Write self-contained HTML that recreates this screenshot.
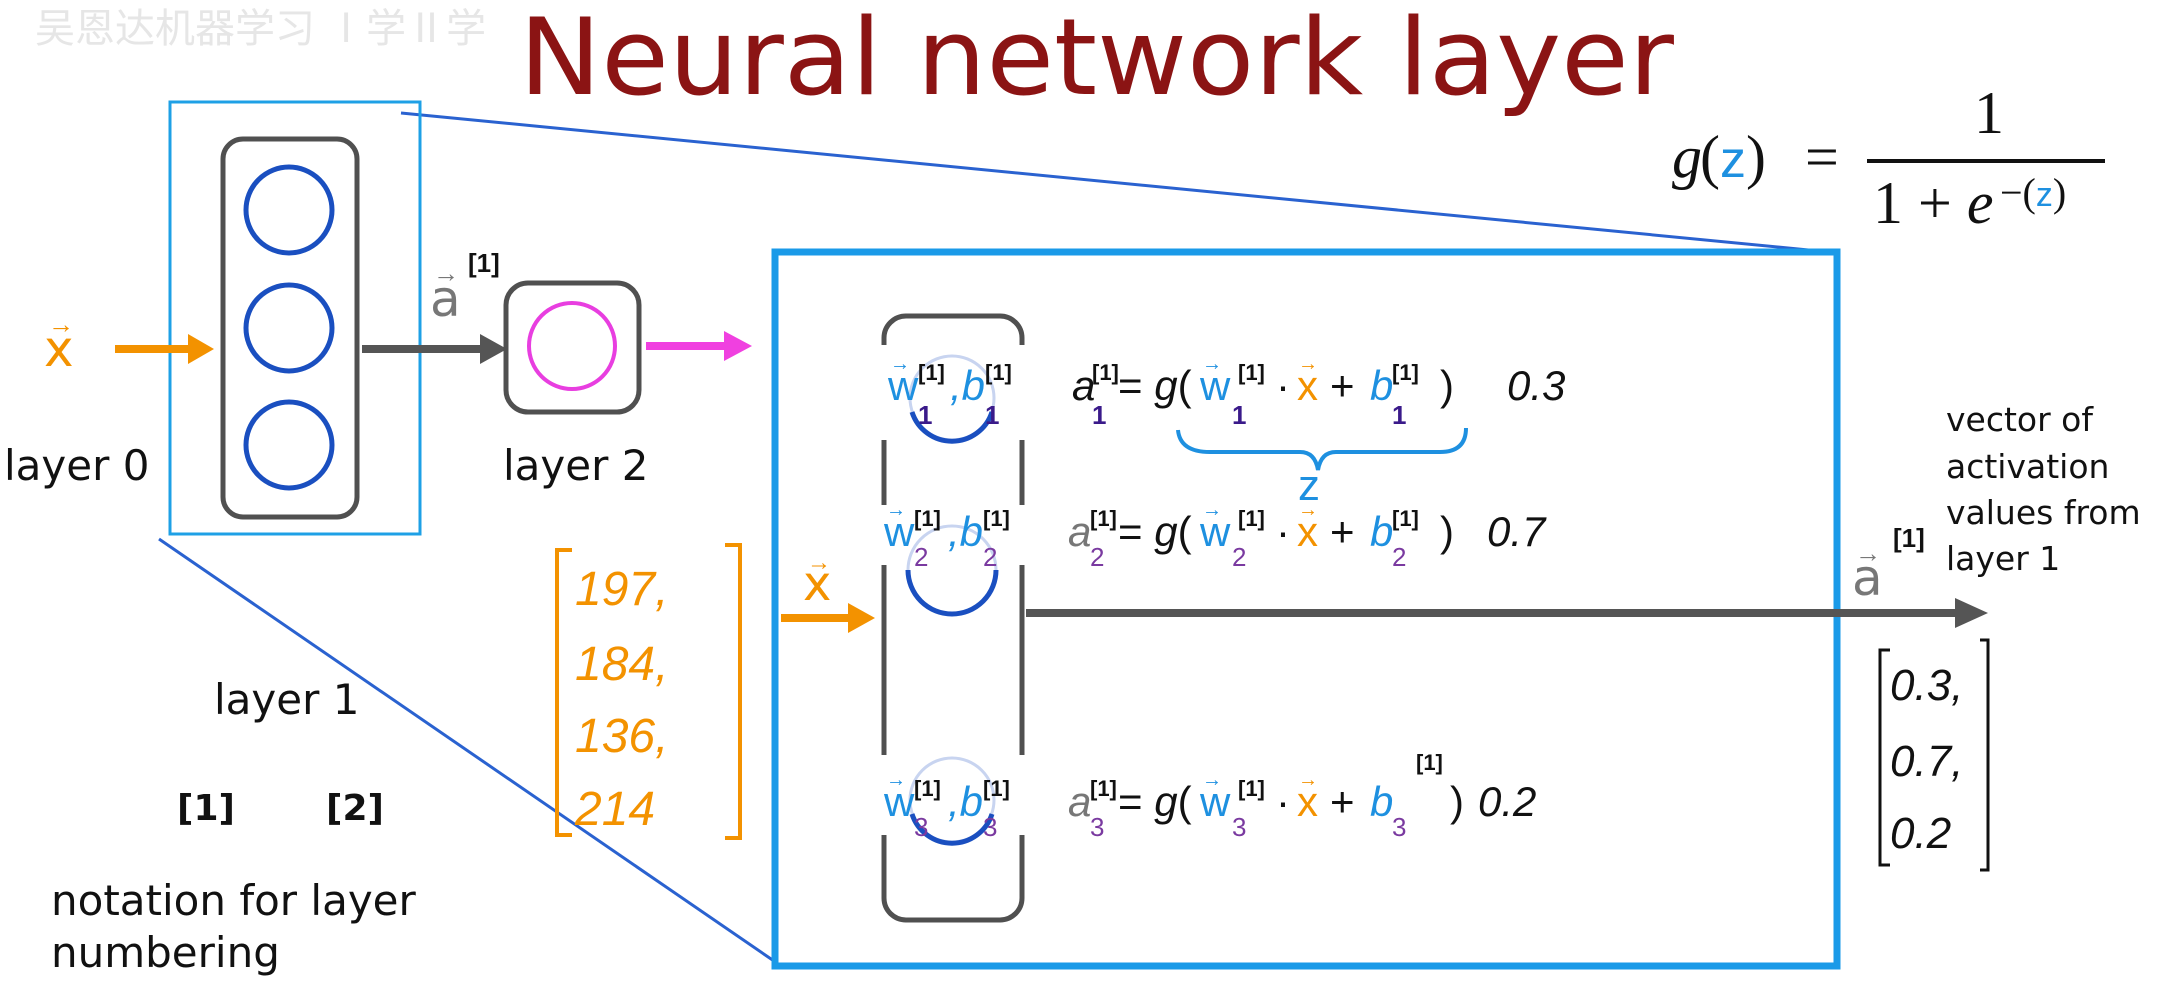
<!DOCTYPE html>
<html><head><meta charset="utf-8"><style>
html,body{margin:0;padding:0;background:#fff;}
svg{display:block;}
</style></head><body>
<svg width="2169" height="991" viewBox="0 0 2169 991" xmlns="http://www.w3.org/2000/svg" font-family="Liberation Sans, sans-serif">
<rect width="2169" height="991" fill="#fff"/>
<text x="35" y="42" font-size="40" fill="#e6e6e6" font-family="Liberation Sans, Noto Sans CJK SC, sans-serif">吴恩达机器学习 Ⅰ学Ⅱ学</text>
<text x="519" y="94" font-size="106" fill="#8b1414" font-family="DejaVu Sans, sans-serif" textLength="1155" lengthAdjust="spacingAndGlyphs">Neural network layer</text>

<g font-family="Liberation Serif, serif" font-size="60" fill="#111">
<text x="1672" y="177" font-style="italic">g</text>
<text x="1700" y="177">(<tspan fill="#1e90e0" font-family="Liberation Sans, sans-serif" font-size="52">z</tspan>)</text>
<text x="1805" y="177">=</text>
<text x="1974" y="133">1</text>
<line x1="1867" y1="161" x2="2105" y2="161" stroke="#111" stroke-width="4"/>
<text x="1873" y="223">1 + <tspan font-style="italic">e</tspan></text>
<text x="2000" y="206" font-size="40">−(<tspan fill="#1e90e0" font-family="Liberation Sans, sans-serif" font-size="34">z</tspan>)</text>
</g>

<line x1="401" y1="113" x2="1839" y2="253" stroke="#2a62d0" stroke-width="3"/>
<line x1="159" y1="539" x2="774" y2="961" stroke="#2a62d0" stroke-width="3"/>

<rect x="170" y="102" width="250" height="432" fill="none" stroke="#1ea0e6" stroke-width="3"/>
<rect x="223" y="139" width="134" height="378" rx="20" fill="none" stroke="#505050" stroke-width="5"/>
<circle cx="289" cy="210" r="43" fill="none" stroke="#1a4fc0" stroke-width="5"/>
<circle cx="289" cy="328" r="43" fill="none" stroke="#1a4fc0" stroke-width="5"/>
<circle cx="289" cy="445" r="43" fill="none" stroke="#1a4fc0" stroke-width="5"/>
<text x="44" y="366" font-size="50" fill="#f39200" font-family="DejaVu Sans, sans-serif">x</text>
<text x="48" y="333" font-size="26" fill="#f39200">→</text>
<line x1="115" y1="349" x2="192" y2="349" stroke="#f39200" stroke-width="8"/>
<path d="M188,334 L214,349 L188,364 z" fill="#f39200"/>
<line x1="362" y1="349" x2="485" y2="349" stroke="#555" stroke-width="8"/>
<path d="M480,334 L507,349 L480,364 z" fill="#555"/>
<text x="430" y="316" font-size="50" fill="#777" font-family="DejaVu Sans, sans-serif">a</text>
<text x="433" y="282" font-size="26" fill="#777">→</text>
<text x="468" y="272" font-size="26" fill="#111" font-weight="bold">[1]</text>
<rect x="506" y="283" width="133" height="129" rx="22" fill="none" stroke="#505050" stroke-width="5"/>
<circle cx="572" cy="346" r="43" fill="none" stroke="#e83ee0" stroke-width="4"/>
<line x1="646" y1="346" x2="728" y2="346" stroke="#f040e0" stroke-width="8"/>
<path d="M724,331 L752,346 L724,361 z" fill="#f040e0"/>

<g font-size="42" fill="#111" font-family="DejaVu Sans, sans-serif">
<text x="4" y="480">layer 0</text>
<text x="503" y="480">layer 2</text>
<text x="214" y="714">layer 1</text>
<text x="177" y="820" font-size="36" font-weight="bold">[1]</text>
<text x="326" y="820" font-size="36" font-weight="bold">[2]</text>
<text x="51" y="915">notation for layer</text>
<text x="51" y="967">numbering</text>
</g>

<rect x="775" y="252" width="1062" height="714" fill="none" stroke="#1a9ae8" stroke-width="7"/>

<rect x="884" y="316" width="138" height="604" rx="22" fill="none" stroke="#505050" stroke-width="5"/>
<rect x="876" y="345" width="155" height="95" fill="#fff"/>
<rect x="876" y="505" width="155" height="60" fill="#fff"/>
<rect x="876" y="755" width="155" height="80" fill="#fff"/>
<circle cx="952" cy="398" r="42" fill="none" stroke="#c8d4f0" stroke-width="3"/>
<path d="M912,412 A42,42 0 0 0 992,412" fill="none" stroke="#1a4fc0" stroke-width="5"/>
<circle cx="952" cy="570" r="44" fill="none" stroke="#c8d4f0" stroke-width="3"/>
<path d="M908,570 A44,44 0 0 0 996,570" fill="none" stroke="#1a4fc0" stroke-width="5"/>
<circle cx="952" cy="800" r="42" fill="none" stroke="#c8d4f0" stroke-width="3"/>
<path d="M912,814 A42,42 0 0 0 992,814" fill="none" stroke="#1a4fc0" stroke-width="5"/>

<text x="803" y="600" font-size="48" fill="#f39200" font-family="DejaVu Sans, sans-serif">x</text>
<text x="807" y="570" font-size="24" fill="#f39200">→</text>
<line x1="781" y1="618" x2="852" y2="618" stroke="#f39200" stroke-width="8"/>
<path d="M848,603 L875,618 L848,633 z" fill="#f39200"/>

<line x1="1026" y1="613" x2="1960" y2="613" stroke="#555" stroke-width="8"/>
<path d="M1955,598 L1988,613 L1955,628 z" fill="#555"/>
<text x="1852" y="595" font-size="50" fill="#777" font-family="DejaVu Sans, sans-serif">a</text>
<text x="1855" y="562" font-size="26" fill="#777">→</text>
<text x="1893" y="547" font-size="26" fill="#111" font-weight="bold">[1]</text>

<g font-size="33" fill="#111" font-family="DejaVu Sans, sans-serif">
<text x="1946" y="431">vector of</text>
<text x="1946" y="478">activation</text>
<text x="1946" y="524">values from</text>
<text x="1946" y="570">layer 1</text>
</g>

<path d="M1890,650 L1880,650 L1880,865 L1890,865" fill="none" stroke="#111" stroke-width="3"/>
<path d="M1980,640 L1988,640 L1988,870 L1980,870" fill="none" stroke="#111" stroke-width="3"/>
<g font-size="44" fill="#111" font-style="italic">
<text x="1890" y="700">0.3,</text>
<text x="1890" y="776">0.7,</text>
<text x="1890" y="848">0.2</text>
</g>

<path d="M572,550 L557,550 L557,835 L572,835" fill="none" stroke="#f39200" stroke-width="4"/>
<path d="M725,545 L740,545 L740,838 L725,838" fill="none" stroke="#f39200" stroke-width="4"/>
<g font-size="48" fill="#f39200" font-style="italic">
<text x="575" y="605">197,</text>
<text x="575" y="680">184,</text>
<text x="575" y="752">136,</text>
<text x="575" y="825">214</text>
</g>

<g font-size="42" fill="#111">
<text x="888" y="400" fill="#1e90e0">w</text><text x="890" y="370" font-size="20" fill="#1e90e0">→</text>
<text x="918" y="424" font-size="26" fill="#3a1a8a" font-weight="bold">1</text>
<text x="918" y="380" font-size="22" font-weight="bold">[1]</text>
<text x="950" y="400" fill="#1e90e0" font-style="italic">,b</text>
<text x="985" y="424" font-size="26" fill="#3a1a8a" font-weight="bold">1</text>
<text x="985" y="380" font-size="22" font-weight="bold">[1]</text>
<text x="1072" y="400" font-style="italic">a</text>
<text x="1092" y="424" font-size="26" fill="#3a1a8a" font-weight="bold">1</text>
<text x="1092" y="380" font-size="22" font-weight="bold">[1]</text>
<text x="1118" y="400">= <tspan font-style="italic">g</tspan>(</text>
<text x="1200" y="400" fill="#1e90e0">w</text><text x="1202" y="370" font-size="20" fill="#1e90e0">→</text>
<text x="1232" y="424" font-size="26" fill="#3a1a8a" font-weight="bold">1</text>
<text x="1238" y="380" font-size="22" font-weight="bold">[1]</text>
<text x="1276" y="400">·</text>
<text x="1297" y="400" fill="#f39200">x</text><text x="1298" y="370" font-size="20" fill="#f39200">→</text>
<text x="1330" y="400">+</text>
<text x="1370" y="400" fill="#1e90e0" font-style="italic">b</text>
<text x="1392" y="424" font-size="26" fill="#3a1a8a" font-weight="bold">1</text>
<text x="1392" y="380" font-size="22" font-weight="bold">[1]</text>
<text x="1440" y="400">)</text>
<text x="1507" y="400" font-style="italic">0.3</text>
<text x="884" y="546" fill="#1e90e0">w</text><text x="886" y="516" font-size="20" fill="#1e90e0">→</text>
<text x="914" y="566" font-size="26" fill="#7a3aa0">2</text>
<text x="914" y="526" font-size="22" font-weight="bold">[1]</text>
<text x="948" y="546" fill="#1e90e0" font-style="italic">,b</text>
<text x="983" y="566" font-size="26" fill="#7a3aa0">2</text>
<text x="983" y="526" font-size="22" font-weight="bold">[1]</text>
<text x="1068" y="546" font-style="italic" fill="#777">a</text>
<text x="1090" y="566" font-size="26" fill="#7a3aa0">2</text>
<text x="1090" y="526" font-size="22" font-weight="bold">[1]</text>
<text x="1118" y="546">= <tspan font-style="italic">g</tspan>(</text>
<text x="1200" y="546" fill="#1e90e0">w</text><text x="1202" y="516" font-size="20" fill="#1e90e0">→</text>
<text x="1232" y="566" font-size="26" fill="#7a3aa0">2</text>
<text x="1238" y="526" font-size="22" font-weight="bold">[1]</text>
<text x="1276" y="546">·</text>
<text x="1297" y="546" fill="#f39200">x</text><text x="1298" y="516" font-size="20" fill="#f39200">→</text>
<text x="1330" y="546">+</text>
<text x="1370" y="546" fill="#1e90e0" font-style="italic">b</text>
<text x="1392" y="566" font-size="26" fill="#7a3aa0">2</text>
<text x="1392" y="526" font-size="22" font-weight="bold">[1]</text>
<text x="1440" y="546">)</text>
<text x="1487" y="546" font-style="italic">0.7</text>
<text x="884" y="816" fill="#1e90e0">w</text><text x="886" y="786" font-size="20" fill="#1e90e0">→</text>
<text x="914" y="836" font-size="26" fill="#7a3aa0">3</text>
<text x="914" y="796" font-size="22" font-weight="bold">[1]</text>
<text x="948" y="816" fill="#1e90e0" font-style="italic">,b</text>
<text x="983" y="836" font-size="26" fill="#7a3aa0">3</text>
<text x="983" y="796" font-size="22" font-weight="bold">[1]</text>
<text x="1068" y="816" font-style="italic" fill="#777">a</text>
<text x="1090" y="836" font-size="26" fill="#7a3aa0">3</text>
<text x="1090" y="796" font-size="22" font-weight="bold">[1]</text>
<text x="1118" y="816">= <tspan font-style="italic">g</tspan>(</text>
<text x="1200" y="816" fill="#1e90e0">w</text><text x="1202" y="786" font-size="20" fill="#1e90e0">→</text>
<text x="1232" y="836" font-size="26" fill="#7a3aa0">3</text>
<text x="1238" y="796" font-size="22" font-weight="bold">[1]</text>
<text x="1276" y="816">·</text>
<text x="1297" y="816" fill="#f39200">x</text><text x="1298" y="786" font-size="20" fill="#f39200">→</text>
<text x="1330" y="816">+</text>
<text x="1370" y="816" fill="#1e90e0" font-style="italic">b</text>
<text x="1392" y="836" font-size="26" fill="#7a3aa0">3</text>
<text x="1416" y="770" font-size="22" font-weight="bold">[1]</text>
<text x="1450" y="816">)</text>
<text x="1478" y="816" font-style="italic">0.2</text>
</g>
<path d="M1178,430 Q1180,452 1210,452 L1300,452 Q1315,452 1318,470 Q1321,452 1336,452 L1440,452 Q1466,452 1466,428" fill="none" stroke="#1e90e0" stroke-width="4"/>
<text x="1298" y="500" font-size="44" fill="#1e90e0">z</text>
</svg>
</body></html>
